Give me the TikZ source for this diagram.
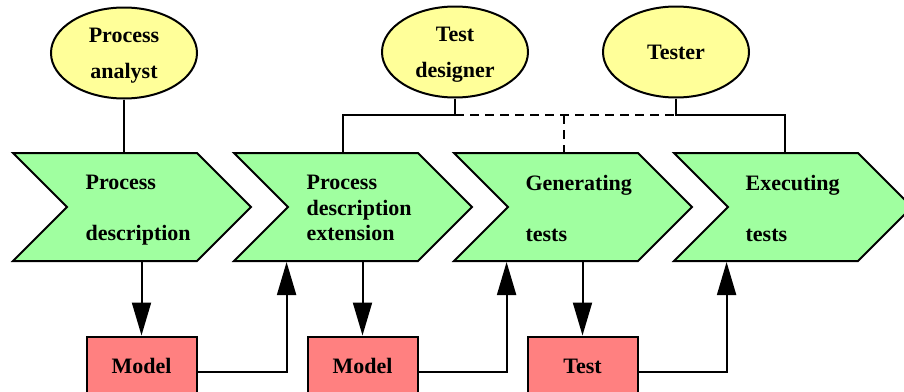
\documentclass[tikz,border=0pt]{standalone}
\usepackage{fontspec}
\setmainfont{Liberation Serif}
\usetikzlibrary{arrows.meta,positioning,shapes.geometric,shapes.symbols}
\definecolor{actorfill}{RGB}{255,255,153}
\definecolor{stepfill}{RGB}{160,255,160}
\definecolor{docfill}{RGB}{255,128,128}

\begin{document}
\begin{tikzpicture}[x=1pt, y=-1pt, line width=2pt,
    actor/.style = {draw, ellipse, fill=actorfill, minimum width=146pt, minimum height=91pt, inner sep=0pt, text depth=0pt, align=center, font=\bfseries\fontsize{22}{36}\selectfont},
    chevron/.style = {draw, signal, signal from=west, signal to=east, signal pointer angle=90, fill=stepfill, minimum width=238pt, minimum height=108pt, inner sep=0pt},
    steptext/.style = {align=left, inner sep=0pt, text depth=0pt, yshift=-1pt, font=\bfseries\fontsize{22}{25.5}\selectfont},
    doc/.style = {draw, rectangle, fill=docfill, minimum width=110pt, minimum height=59pt, font=\bfseries\fontsize{22}{25.5}\selectfont},
    arr/.style = {-{Triangle[length=33pt,width=19pt]}}]
        \useasboundingbox (0,0) rectangle (904,391);
        % actors
        \node (pa) [actor] at (124,53) {Process\\analyst};
        \node (td) [actor] at (455,52) {Test\\designer};
        \node (tr) [actor] at (676,52) {Tester};
        % process steps
        \node (pd) [chevron] at (132,207) {};
        \node (pde) [chevron] at (353,207) {};
        \node (gt) [chevron] at (573,207) {};
        \node (et) [chevron] at (793,207) {};
        \node (pdt) [steptext, right=19pt of pd.west] {Process\\[25.5pt]description};
        \node (pdet) [steptext, right=19pt of pde.west] {Process\\description\\extension};
        \node (gtt) [steptext, right=18pt of gt.west] {Generating\\[25.5pt]tests};
        \node (ett) [steptext, right=18pt of et.west] {Executing\\[25.5pt]tests};
        % documents
        \node (m1) [doc] at (141.5,366) {Model};
        \node (m2) [doc] at (362.5,366) {Model};
        \node (tc) [doc] at (582.5,366) {Test};
        % responsibilities
        \coordinate (bus) at (343,115);
        \coordinate (gtlink) at (564,115);
        \coordinate (etlink) at (785,115);
        \draw (pa.south) -- (pa.south |- pd.north);
        \draw (td.south) -- (td.south |- bus) -- (bus) -- (bus |- pde.north);
        \draw [dashed, dash pattern=on 9pt off 6pt] (td.south |- bus) -- (tr.south |- bus);
        \draw [dashed, dash pattern=on 9pt off 6pt] (gtlink) -- (gtlink |- gt.north);
        \draw (tr.south) -- (tr.south |- etlink) -- (etlink) -- (etlink |- et.north);
        % data flow
        \path [draw, arr] (m1.north |- pd.south) -- (m1.north);
        \path [draw, arr] ([yshift=-6pt]m1.east) -| (pde.south -| pde.west);
        \path [draw, arr] (m2.north |- pde.south) -- (m2.north);
        \path [draw, arr] ([yshift=-6pt]m2.east) -| (gt.south -| gt.west);
        \path [draw, arr] (tc.north |- gt.south) -- (tc.north);
        \path [draw, arr] ([yshift=-6pt]tc.east) -| (et.south -| et.west);
\end{tikzpicture}
\end{document}
